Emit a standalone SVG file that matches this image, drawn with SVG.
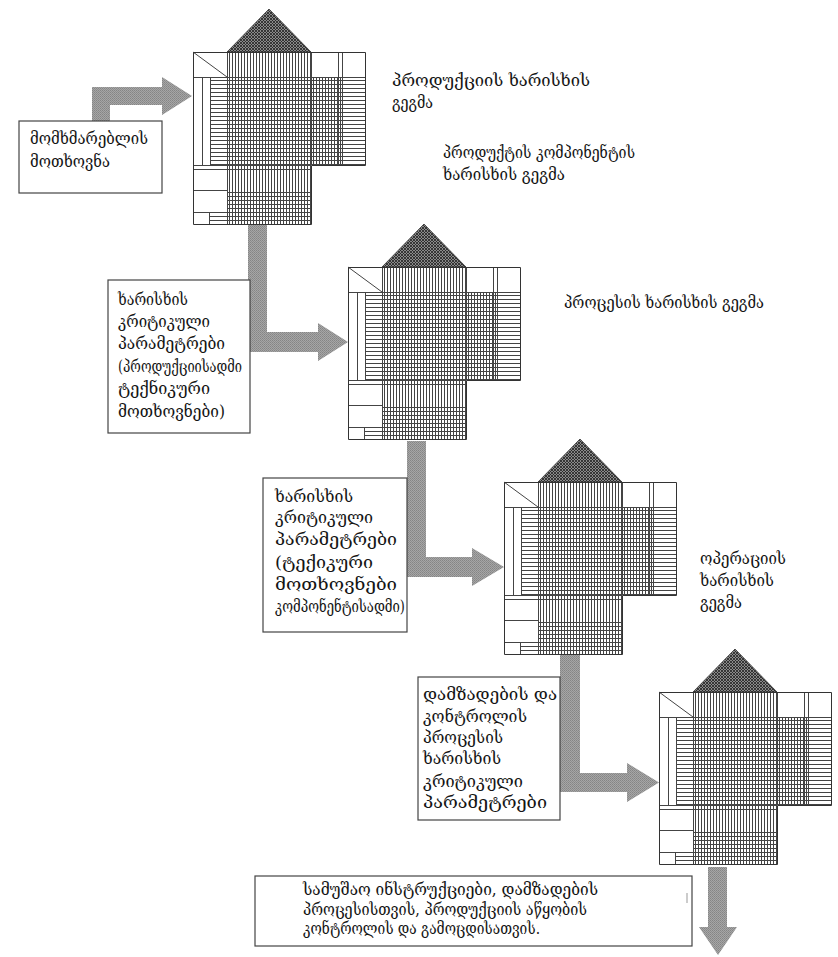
<svg xmlns="http://www.w3.org/2000/svg" xmlns:xlink="http://www.w3.org/1999/xlink" width="838" height="957" viewBox="0 0 838 957">
<style>
  text { font-family: "DejaVu Serif", "DejaVu Sans", serif; font-size: 17px; fill: #151515; }
  .box { fill: #fff; stroke: #444; stroke-width: 1.2; }
  .arrow { fill: url(#stip); stroke: none; }
  .struct { fill: none; stroke: #444; stroke-width: 1; }
  .outline { fill: none; stroke: #333; stroke-width: 1; }
</style>
<defs>
  <pattern id="vl" patternUnits="userSpaceOnUse" width="3" height="10">
    <path d="M0.5 0V10" stroke="#444" stroke-width="1"/>
  </pattern>
  <pattern id="hl" patternUnits="userSpaceOnUse" width="10" height="4">
    <path d="M0 0.5H10" stroke="#444" stroke-width="1"/>
  </pattern>
  <pattern id="roof" patternUnits="userSpaceOnUse" width="3" height="3">
    <rect width="3" height="3" fill="#8a8a8a"/>
    <path d="M0 0L3 3M3 0L0 3" stroke="#222" stroke-width="0.8"/>
  </pattern>
  <pattern id="stip" patternUnits="userSpaceOnUse" width="2" height="2">
    <rect width="2" height="2" fill="#a6a6a6"/>
    <rect width="1" height="1" fill="#858585"/>
    <rect x="1" y="1" width="1" height="1" fill="#8e8e8e"/>
  </pattern>
  <g id="hoq">
    <polygon points="34,0 76,-43 118,0" fill="url(#roof)" stroke="#333" stroke-width="0.8"/>
    <path d="M0 0H173V113H118V173H0Z" fill="#fff"/>
    <rect x="34" y="0" width="84" height="25" fill="url(#vl)"/>
    <rect x="17" y="25" width="156" height="88" fill="url(#hl)"/>
    <rect x="34" y="25" width="115" height="88" fill="url(#vl)"/>
    <rect x="34" y="113" width="84" height="60" fill="url(#vl)"/>
    <rect x="34" y="138" width="84" height="35" fill="url(#hl)"/>
    <rect x="16" y="160" width="18" height="13" fill="url(#hl)"/>
    <path class="struct" d="M0 0L34 25M0 25.5H173M34.5 0V173M118.5 0V113M145.5 0V113M149.5 0V113M9.5 25V113M17.5 25V113M0 113.5H118M0 117.5H118M0 138.5H34M0 160.5H34M16.5 160V173"/>
    <path class="outline" d="M0.5 0.5H172.5V113.5H118.5V172.5H0.5Z"/>
  </g>
</defs>
<rect width="838" height="957" fill="#fff"/>

<g id="connectors">
  <path class="arrow" d="M92 121V87H162V77L192 96L162 115V105H110V121Z"/>
  <path class="arrow" d="M248 225H267V332H318V323L348 342L318 361V352H248Z"/>
  <path class="arrow" d="M407 441H426V557H472V548L504 567L472 586V577H407Z"/>
  <path class="arrow" d="M560 655H580V773H627V763L659 782.5L627 802V792H560Z"/>
  <path class="arrow" d="M708 867H727V927H737L718 955L699 927H708Z"/>
</g>

<g id="house1"><use xlink:href="#hoq" href="#hoq" x="193" y="52"/></g>
<g id="house2"><use xlink:href="#hoq" href="#hoq" x="348" y="267"/></g>
<g id="house3"><use xlink:href="#hoq" href="#hoq" x="504" y="482"/></g>
<g id="house4"><use xlink:href="#hoq" href="#hoq" x="659" y="692"/></g>

<g id="label1">
  <text x="392" y="86" textLength="198" lengthAdjust="spacingAndGlyphs">პროდუქციის ხარისხის</text>
  <text x="392" y="108" textLength="41" lengthAdjust="spacingAndGlyphs">გეგმა</text>
</g>
<g id="label2">
  <text x="443" y="158" textLength="192" lengthAdjust="spacingAndGlyphs">პროდუქტის კომპონენტის</text>
  <text x="443" y="180" textLength="122" lengthAdjust="spacingAndGlyphs">ხარისხის გეგმა</text>
</g>
<g id="label3">
  <text x="564" y="308" textLength="200" lengthAdjust="spacingAndGlyphs">პროცესის ხარისხის გეგმა</text>
</g>
<g id="label4">
  <text x="700" y="564" textLength="86" lengthAdjust="spacingAndGlyphs">ოპერაციის</text>
  <text x="700" y="586" textLength="74" lengthAdjust="spacingAndGlyphs">ხარისხის</text>
  <text x="700" y="608" textLength="42" lengthAdjust="spacingAndGlyphs">გეგმა</text>
</g>

<g id="box1">
  <rect class="box" x="19" y="121" width="143" height="72"/>
  <text x="30" y="144" textLength="118" lengthAdjust="spacingAndGlyphs">მომხმარებლის</text>
  <text x="30" y="167" textLength="80" lengthAdjust="spacingAndGlyphs">მოთხოვნა</text>
</g>
<g id="box2">
  <rect class="box" x="108" y="280" width="142" height="153"/>
  <text x="118" y="305" textLength="70" lengthAdjust="spacingAndGlyphs">ხარისხის</text>
  <text x="118" y="327" textLength="92" lengthAdjust="spacingAndGlyphs">კრიტიკული</text>
  <text x="118" y="349" textLength="107" lengthAdjust="spacingAndGlyphs">პარამეტრები</text>
  <text x="118" y="372" textLength="124" lengthAdjust="spacingAndGlyphs">(პროდუქციისადმი</text>
  <text x="118" y="394" textLength="92" lengthAdjust="spacingAndGlyphs">ტექნიკური</text>
  <text x="118" y="417" textLength="107" lengthAdjust="spacingAndGlyphs">მოთხოვნები)</text>
</g>
<g id="box3">
  <rect class="box" x="263" y="478" width="144" height="154"/>
  <text x="275" y="502" textLength="78" lengthAdjust="spacingAndGlyphs">ხარისხის</text>
  <text x="275" y="523" textLength="98" lengthAdjust="spacingAndGlyphs">კრიტიკული</text>
  <text x="275" y="545" textLength="122" lengthAdjust="spacingAndGlyphs">პარამეტრები</text>
  <text x="275" y="568" textLength="98" lengthAdjust="spacingAndGlyphs">(ტექიკური</text>
  <text x="275" y="590" textLength="122" lengthAdjust="spacingAndGlyphs">მოთხოვნები</text>
  <text x="275" y="612" textLength="130" lengthAdjust="spacingAndGlyphs">კომპონენტისადმი)</text>
</g>
<g id="box4">
  <rect class="box" x="418" y="677" width="142" height="143"/>
  <text x="423" y="700" textLength="134" lengthAdjust="spacingAndGlyphs">დამზადების და</text>
  <text x="423" y="722" textLength="104" lengthAdjust="spacingAndGlyphs">კონტროლის</text>
  <text x="423" y="743" textLength="80" lengthAdjust="spacingAndGlyphs">პროცესის</text>
  <text x="423" y="764" textLength="78" lengthAdjust="spacingAndGlyphs">ხარისხის</text>
  <text x="423" y="787" textLength="100" lengthAdjust="spacingAndGlyphs">კრიტიკული</text>
  <text x="423" y="808" textLength="124" lengthAdjust="spacingAndGlyphs">პარამეტრები</text>
</g>
<g id="box5">
  <rect class="box" x="255" y="876" width="437" height="70"/>
  <text x="303" y="895" textLength="295" lengthAdjust="spacingAndGlyphs">სამუშაო ინსტრუქციები, დამზადების</text>
  <text x="303" y="915" textLength="284" lengthAdjust="spacingAndGlyphs">პროცესისთვის, პროდუქციის აწყობის</text>
  <text x="303" y="934" textLength="237" lengthAdjust="spacingAndGlyphs">კონტროლის და გამოცდისათვის.</text>
  <path d="M687 893V903" stroke="#999" stroke-width="1"/>
</g>
</svg>
